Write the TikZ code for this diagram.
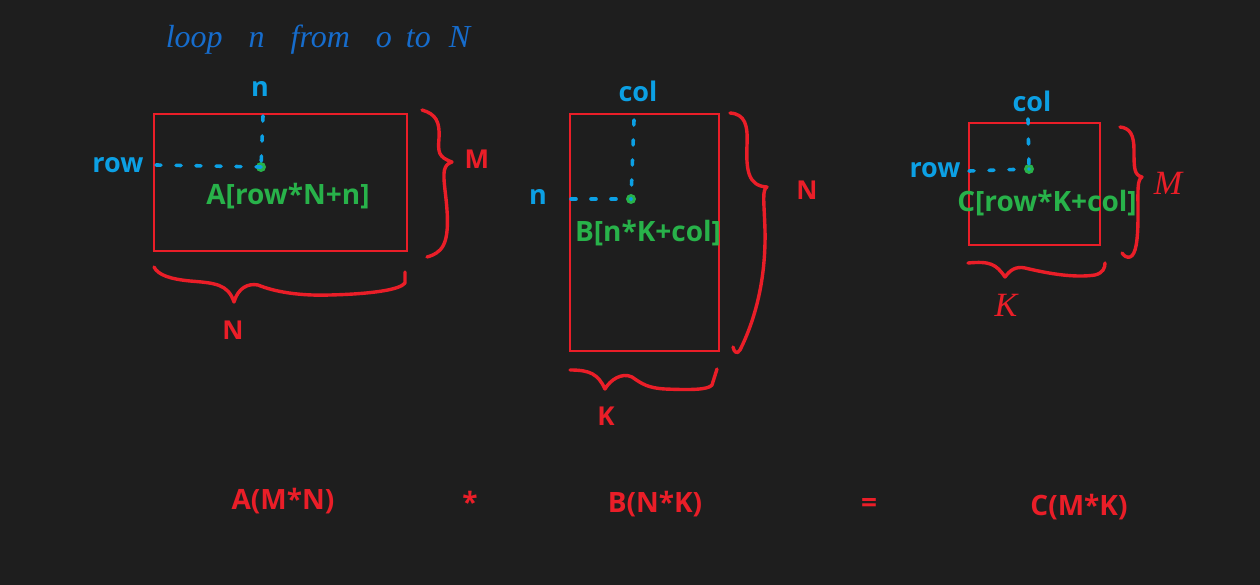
\documentclass[tikz,border=0pt]{standalone}
\usepackage{fontspec}
\setmainfont{Open Sans}
\newfontfamily\handfont{Liberation Serif}
\definecolor{bgc}{RGB}{30,30,30}
\definecolor{redc}{RGB}{234,30,40}
\definecolor{bluec}{RGB}{12,160,228}
\definecolor{greenc}{RGB}{40,178,74}
\definecolor{handblue}{RGB}{22,108,204}
\tikzset{
  mat/.style={draw=redc, line width=1.6pt, inner sep=0pt},
  lbl/.style={text=bluec, font=\fontsize{27}{30}\selectfont\bfseries, inner sep=0pt},
  idx/.style={text=greenc, font=\fontsize{28}{30}\selectfont\bfseries, inner sep=0pt},
  dimlbl/.style={text=redc, font=\fontsize{26}{30}\selectfont\bfseries, inner sep=0pt},
  eqlbl/.style={text=redc, font=\fontsize{28}{30}\selectfont\bfseries, inner sep=0pt},
  handlbl/.style={text=redc, font=\fontsize{34}{38}\selectfont\handfont\itshape, inner sep=0pt},
  dotline/.style={draw=bluec, line width=3.6pt, line cap=round, dash pattern=on 5pt off 15pt},
  brace/.style={draw=redc, line width=3.4pt, line cap=round, line join=round},
  gdot/.style={fill=greenc, circle, inner sep=0pt, minimum size=10pt},
}
\begin{document}
\begin{tikzpicture}[x=1pt,y=-1pt]
\fill[bgc] (0,0) rectangle (1260,585);
\useasboundingbox (0,0) rectangle (1260,585);

% handwritten title
\node[text=handblue, font=\fontsize{32}{36}\selectfont\handfont\itshape, inner sep=0pt] (title) at (318,40)
  {loop\hspace{26pt}n\hspace{26pt}from\hspace{26pt}o\hspace{14pt}to\hspace{18pt}N};

% ---------- Matrix A ----------
\node[mat, minimum width=253pt, minimum height=137pt] (A) at (280.5,182.5) {};
\node[lbl] (nA) at (260,89) {n};
\node[lbl] (rowA) at (118,165) {row};
\node[gdot] (dA) at (261,167) {};
\coordinate (nAs) at (263,116);
\coordinate (rowAs) at (156,165);
\draw[dotline] (nAs) -- (dA.center);
\draw[dotline] (rowAs) -- (dA.center);
\node[idx] (eA) at (288,196) {A[row*N+n]};
\draw[brace] (422,110) .. controls (436,114) and (440,122) .. (439,138)
  .. controls (438,152) and (438,157) .. (452,162)
  .. controls (443,165) and (443,172) .. (445,190)
  .. controls (448,215) and (450,240) .. (440,250)
  .. controls (435,255) and (430,256) .. (427,257);
\node[dimlbl] (MA) at (477,159) {M};
\draw[brace] (154,267) .. controls (158,275) and (170,279) .. (190,281)
  .. controls (215,283) and (228,284) .. (234,302)
  .. controls (238,288) and (248,283) .. (258,285)
  .. controls (275,292) and (300,296) .. (330,295)
  .. controls (370,294) and (400,290) .. (405,283)
  -- (405,272);
\node[dimlbl] (NA) at (233,330) {N};

% ---------- Matrix B ----------
\node[mat, minimum width=149pt, minimum height=237pt] (B) at (644.5,232.5) {};
\node[lbl] (colB) at (638,91) {col};
\node[lbl] (nB) at (538,197) {n};
\node[gdot] (dB) at (631,199) {};
\coordinate (colBs) at (634,120);
\coordinate (nBs) at (571,199);
\draw[dotline] (colBs) -- (dB.center);
\draw[dotline] (nBs) -- (dB.center);
\node[idx] (eB) at (648,233) {B[n*K+col]};
\draw[brace] (730,113) .. controls (745,114) and (748,125) .. (747,145)
  .. controls (746,170) and (748,186) .. (767,187)
  .. controls (762,190) and (764,200) .. (765,230)
  .. controls (766,280) and (755,320) .. (740,350)
  .. controls (737,355) and (734,352) .. (733,347);
\node[dimlbl] (NB) at (807,190) {N};
\draw[brace] (570,370) .. controls (590,370) and (598,374) .. (605,389)
  .. controls (610,380) and (622,372) .. (632,377)
  .. controls (642,384) and (648,388) .. (665,389)
  .. controls (690,390) and (708,390) .. (712,385)
  -- (717,369);
\node[dimlbl] (KB) at (606,416) {K};

% ---------- Matrix C ----------
\node[mat, minimum width=131pt, minimum height=122pt] (C) at (1034.5,184) {};
\node[lbl] (colC) at (1032,101) {col};
\node[lbl] (rowC) at (935,170) {row};
\node[gdot] (dC) at (1029,169) {};
\coordinate (colCs) at (1028,119);
\coordinate (rowCs) at (969,171);
\draw[dotline] (colCs) -- (dC.center);
\draw[dotline] (rowCs) -- (dC.center);
\node[idx] (eC) at (1047,203) {C[row*K+col]};
\draw[brace] (1120,127) .. controls (1130,128) and (1134,135) .. (1134,150)
  .. controls (1134,168) and (1134,175) .. (1142,177)
  .. controls (1137,180) and (1138,190) .. (1138,215)
  .. controls (1138,240) and (1136,255) .. (1130,257)
  .. controls (1127,258) and (1124,256) .. (1122,253);
\node[handlbl] (MC) at (1168,183) {M};
\draw[brace] (968,263) .. controls (990,261) and (996,264) .. (1005,277)
  .. controls (1010,270) and (1016,266) .. (1025,268)
  .. controls (1050,274) and (1075,278) .. (1095,275)
  .. controls (1103,273) and (1105,268) .. (1105,263);
\node[handlbl] (KC) at (1006,305) {K};

% ---------- equation ----------
\node[eqlbl] (eqA) at (283,501) {A(M*N)};
\node[eqlbl] (times) at (470,502) {*};
\node[eqlbl] (eqB) at (655,504) {B(N*K)};
\node[eqlbl] (equals) at (869,505) {=};
\node[eqlbl] (eqC) at (1079,507) {C(M*K)};
\end{tikzpicture}
\end{document}
